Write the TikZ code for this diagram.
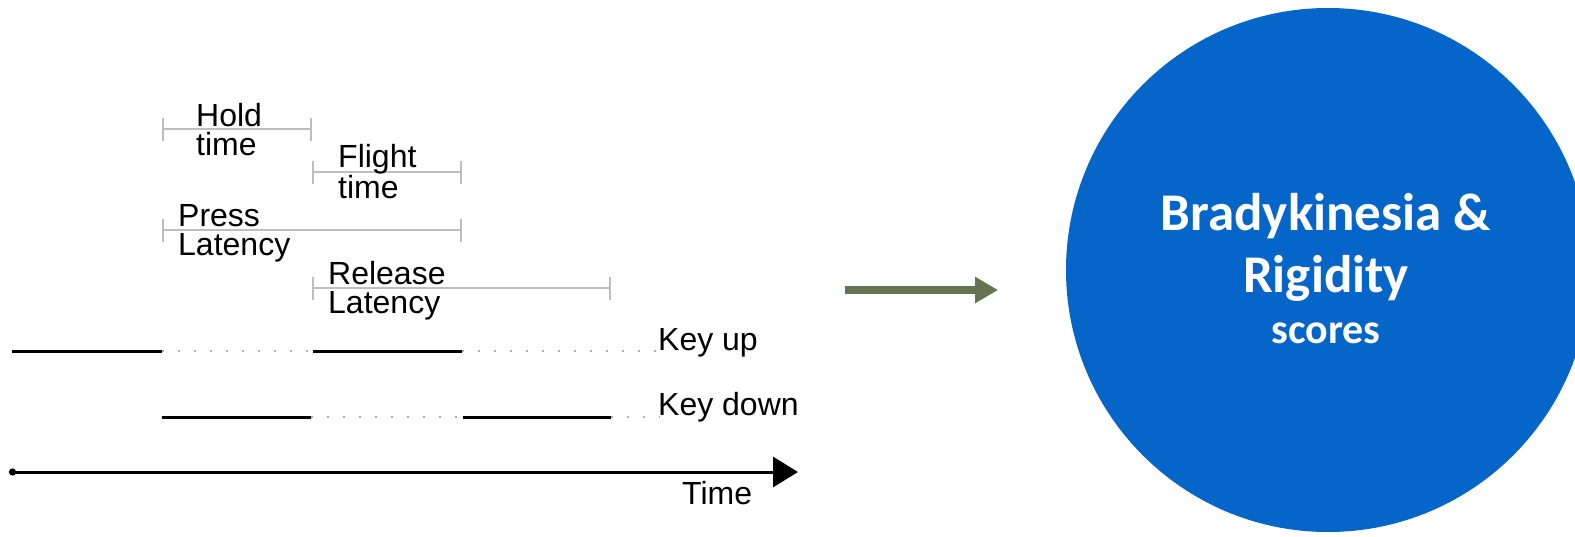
\documentclass[tikz,border=0pt]{standalone}
\usepackage{fontspec}
\setmainfont{Liberation Sans}
\newfontfamily\scorefont{Carlito}
\usetikzlibrary{arrows.meta}
\definecolor{spanGray}{RGB}{190,190,190}
\definecolor{dotGray}{RGB}{175,175,175}
\definecolor{arrowGreen}{RGB}{101,115,80}
\definecolor{scoreBlue}{RGB}{5,101,201}
\begin{document}
\begin{tikzpicture}[x=1pt,y=-1pt,
  lbl/.style={inner sep=0pt, anchor=base west, align=left,
    font=\fontsize{32}{29}\selectfont},
  span/.style={draw=spanGray, line width=2pt,
    {Bar[width=23pt,line width=2pt]}-{Bar[width=23pt,line width=2pt]}},
  level/.style={draw=black, line width=3pt},
  idle/.style={draw=dotGray, line width=2pt, dash pattern=on 2pt off 14pt},
  timeaxis/.style={draw=black, line width=3pt,
    {Circle[length=7pt]}-{Triangle[length=25pt,width=30pt]}},
  flow/.style={draw=arrowGreen, line width=8pt,
    -{Triangle[length=23pt,width=25pt]}},
]
\useasboundingbox (0,0) rectangle (1575,536);

% interval spans; each label is placed by the baseline of its last line
\coordinate (t0) at (162,0);
\coordinate (t1) at (312,0);
\coordinate (t2) at (462,0);
\coordinate (t3) at (611,0);

\draw[span] (t0 |- 0,129) coordinate (hA) -- (t1 |- 0,129) coordinate (hB);
\node[lbl] (hold) at (196,155) {Hold\\time};

\draw[span] (t1 |- 0,172) coordinate (fA) -- (t2 |- 0,172) coordinate (fB);
\node[lbl] (flight) at (338,198) {Flight\\time};

\draw[span] (t0 |- 0,230) coordinate (pA) -- (t2 |- 0,230) coordinate (pB);
\node[lbl] (press) at (178,255) {Press\\Latency};

\draw[span] (t1 |- 0,288) coordinate (rA) -- (t3 |- 0,288) coordinate (rB);
\node[lbl] (release) at (328,313) {Release\\Latency};

% key state traces
\coordinate (uS) at (12,351);
\coordinate (u1) at (162,351);
\coordinate (u2) at (313,351);
\coordinate (u3) at (462,351);
\coordinate (uE) at (660,351);
\draw[level] (uS) -- (u1);
\draw[idle] (u1) -- (u2);
\draw[level] (u2) -- (u3);
\draw[idle] (u3) -- (uE);
\node[lbl] (keyup) at (658,350) {Key up};

\coordinate (d1) at (162,417);
\coordinate (d2) at (311,417);
\coordinate (d3) at (463,417);
\coordinate (d4) at (611,417);
\coordinate (dE) at (660,417);
\draw[level] (d1) -- (d2);
\draw[idle] (d2) -- (d3);
\draw[level] (d3) -- (d4);
\draw[idle] (d4) -- (dE);
\node[lbl] (keydown) at (658,415) {Key down};

% time axis
\coordinate (ax0) at (9,472);
\coordinate (ax1) at (798,472);
\draw[timeaxis] (ax0) -- (ax1);
\node[lbl] (time) at (682,504) {Time};

% result
\node[circle, fill=scoreBlue, minimum size=524pt, inner sep=0pt] (score) at (1328,270) {};
\node[inner sep=0pt, align=center, text=white, font=\scorefont\bfseries\fontsize{53}{62}\selectfont,
  anchor=base] (title) at (1326,292) {Bradykinesia \&\\Rigidity};
\node[inner sep=0pt, text=white, font=\scorefont\bfseries\fontsize{42}{48}\selectfont,
  anchor=base] (sub) at (1326,343) {scores};

\coordinate (fl0) at (845,290);
\coordinate (fl1) at (998,290);
\draw[flow] (fl0) -- (fl1);
\end{tikzpicture}
\end{document}
